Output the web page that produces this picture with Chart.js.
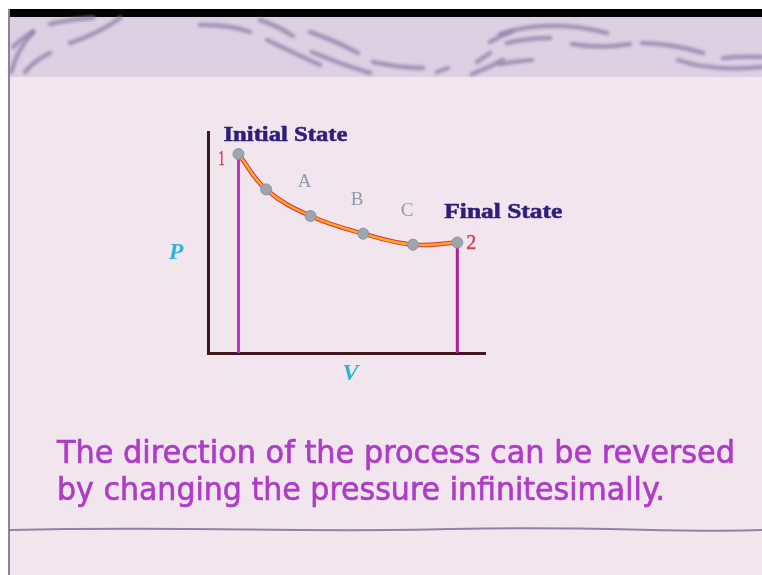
<!DOCTYPE html>
<html>
<head>
<meta charset="utf-8">
<script src="https://cdn.jsdelivr.net/npm/chart.js@4/dist/chart.umd.min.js"></script>
<style>
  html, body { margin: 0; padding: 0; background: #f2e6ee; }
  #wrap { position: relative; width: 762px; height: 575px; }
</style>
</head>
<body>
<div id="wrap"><canvas id="pv" width="762" height="575"></canvas></div>
<script>
// ----- P-V diagram data -----
const volume = [1.1, 2.1, 3.7, 5.6, 7.4, 9.0];
const pressure = [9.0, 7.4, 6.2, 5.4, 4.9, 5.0];
const stageLabels = ['A', 'B', 'C'];          // sit over points 2..4
const stateLabels = ['Initial State', 'Final State'];
const endLabels = ['1', '2'];
const axisTitles = ['V', 'P'];
const captionLines = [
  'The direction of the process can be reversed',
  'by changing the pressure infinitesimally.'
];

const pts = volume.map((v, i) => ({x: v, y: pressure[i]}));
const last = volume.length - 1;

// draw text squeezed/stretched to a fixed width, optional outline for weight
function fitText(ctx, text, x, y, font, color, width, weight) {
  ctx.save();
  ctx.font = font;
  ctx.fillStyle = color;
  ctx.strokeStyle = color;
  ctx.textBaseline = 'alphabetic';
  ctx.textAlign = 'left';
  const w = ctx.measureText(text).width;
  ctx.translate(x, y);
  ctx.scale(width / w, 1);
  ctx.fillText(text, 0, 0);
  if (weight) {
    ctx.lineWidth = weight;
    ctx.strokeText(text, 0, 0);
  }
  ctx.restore();
}

function stroke(ctx, p, w) {
  ctx.lineWidth = w;
  ctx.beginPath();
  ctx.moveTo(p[0], p[1]);
  if (p.length === 4) ctx.lineTo(p[2], p[3]);
  else ctx.quadraticCurveTo(p[2], p[3], p[4], p[5]);
  ctx.stroke();
}

// ----- slide background -----
const slideBg = {
  id: 'slideBg',
  beforeDraw(chart) {
    const ctx = chart.ctx;
    ctx.save();
    ctx.fillStyle = '#f2e6ee';
    ctx.fillRect(0, 0, 762, 575);
    ctx.fillStyle = '#dcd0e3';
    ctx.fillRect(0, 16, 762, 61);
    ctx.fillStyle = '#ffffff';
    ctx.fillRect(0, 0, 762, 9);
    ctx.fillRect(0, 0, 8, 575);
    ctx.fillStyle = '#050308';
    ctx.fillRect(8, 9, 754, 8);
    ctx.fillStyle = '#8a8690';
    ctx.fillRect(8, 9, 2, 566);

    // wavy strokes in the header band
    ctx.strokeStyle = 'rgba(140,128,168,0.75)';
    ctx.lineCap = 'round';
    ctx.filter = 'blur(1.4px)';
    const waves = [
      [11, 72, 18, 48, 33, 32], [25, 72, 35, 60, 50, 53], [13, 47, 22, 38, 33, 32],
      [70, 43, 98, 34, 120, 18], [50, 24, 72, 19, 93, 18], [200, 25, 228, 24, 250, 32],
      [267, 40, 292, 52, 320, 65], [310, 32, 336, 41, 358, 53], [312, 52, 340, 64, 370, 73],
      [373, 62, 400, 68, 423, 68], [437, 72, 448, 68], [472, 74, 488, 68, 503, 60],
      [477, 62, 484, 57, 490, 53], [490, 42, 500, 36, 511, 32], [260, 20, 278, 26, 293, 36],
      [500, 34, 550, 18, 607, 33], [507, 43, 528, 38, 550, 38], [572, 44, 602, 49, 630, 44],
      [642, 43, 675, 44, 703, 53], [678, 60, 712, 72, 762, 67], [723, 58, 742, 56, 762, 57],
      [500, 64, 518, 61, 532, 60]
    ];
    waves.forEach(w => stroke(ctx, w, 4.5));
    ctx.filter = 'none';

    // rule under the caption
    ctx.strokeStyle = 'rgba(120,105,140,0.8)';
    ctx.lineWidth = 2;
    ctx.beginPath();
    ctx.moveTo(10, 530);
    ctx.bezierCurveTo(200, 526, 300, 533, 450, 529);
    ctx.bezierCurveTo(600, 526, 680, 533, 762, 530);
    ctx.stroke();
    ctx.restore();
  }
};

// ----- labels, axis names and caption -----
const slideText = {
  id: 'slideText',
  afterDatasetsDraw(chart) {
    const ctx = chart.ctx;
    const sx = chart.scales.x, sy = chart.scales.y;
    const px = i => sx.getPixelForValue(volume[i]);
    const py = i => sy.getPixelForValue(pressure[i]);

    // state names
    fitText(ctx, stateLabels[0], px(0) - 15, py(0) - 13, 'bold 22px "Liberation Serif"', '#2e1f7a', 124, 0.6);
    fitText(ctx, stateLabels[1], px(last) - 13, py(last) - 25, 'bold 22px "Liberation Serif"', '#2e1f7a', 118, 0.6);

    // end point numbers
    fitText(ctx, endLabels[0], px(0) - 20, py(0) + 11, '20px "Liberation Serif"', '#d0404c', 6, 0.5);
    fitText(ctx, endLabels[1], px(last) + 9, py(last) + 6, '22px "Liberation Serif"', '#d8404c', 10, 0.5);

    // intermediate states
    stageLabels.forEach((t, k) => {
      const i = k + 2;
      ctx.save();
      ctx.font = '19px "Liberation Serif"';
      ctx.fillStyle = '#8e9caa';
      ctx.textAlign = 'center';
      ctx.fillText(t, px(i) - 6, py(i) - 29);
      ctx.restore();
    });

    // axis names
    ctx.save();
    ctx.font = 'italic bold 24px "Liberation Serif"';
    ctx.fillStyle = '#2fb3d8';
    ctx.textAlign = 'center';
    ctx.textBaseline = 'middle';
    ctx.fillText(axisTitles[0], (sx.left + sx.right) / 2 + 4, sx.bottom + 21);
    ctx.fillText(axisTitles[1], sy.left - 32, (sy.top + sy.bottom) / 2 + 10);
    ctx.restore();

    // caption
    fitText(ctx, captionLines[0], 57, 463, '32px "DejaVu Sans"', '#ae3cc6', 678, 0.7);
    fitText(ctx, captionLines[1], 57, 500, '32px "DejaVu Sans"', '#ae3cc6', 608, 0.7);
  }
};

new Chart(document.getElementById('pv'), {
  type: 'scatter',
  data: {
    datasets: [
      { data: pts, showLine: false, pointRadius: 5.5, pointBackgroundColor: '#9da5ae',
        pointBorderColor: '#8c949e', pointBorderWidth: 1, order: 0 },
      { data: pts, showLine: true, borderColor: '#f4aa2c', borderWidth: 2.5, tension: 0.4,
        pointRadius: 0, order: 1 },
      { data: pts, showLine: true, borderColor: '#e0303c', borderWidth: 4.5, tension: 0.4,
        pointRadius: 0, order: 2 },
      { data: [{x: volume[0], y: 0}, {x: volume[0], y: pressure[0]}], showLine: true,
        borderColor: '#c42ccc', borderWidth: 3, pointRadius: 0, order: 3 },
      { data: [{x: volume[last], y: 0}, {x: volume[last], y: pressure[last]}], showLine: true,
        borderColor: '#a8209c', borderWidth: 3, pointRadius: 0, order: 3 }
    ]
  },
  options: {
    responsive: false,
    animation: false,
    clip: false,
    layout: { padding: { left: 208, top: 132, right: 277, bottom: 222 } },
    plugins: { legend: { display: false }, tooltip: { enabled: false } },
    scales: {
      x: { type: 'linear', min: 0, max: 10,
           ticks: { display: false }, grid: { display: false, drawTicks: false },
           border: { display: true, color: '#42181f', width: 3 } },
      y: { type: 'linear', min: 0, max: 10,
           ticks: { display: false }, grid: { display: false, drawTicks: false },
           border: { display: true, color: '#3a1a22', width: 3 } }
    }
  },
  plugins: [slideBg, slideText]
});
</script>
</body>
</html>
